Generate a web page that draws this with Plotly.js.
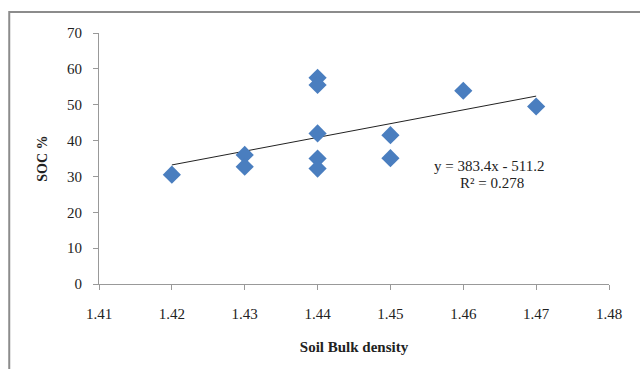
<!DOCTYPE html>
<html>
<head>
<meta charset="utf-8">
<script src="https://cdn.plot.ly/plotly-3.0.1.min.js"></script>
<style>html,body{margin:0;padding:0;background:#fff;}#chart{width:640px;height:369px;}</style>
</head>
<body>
<div id="chart"></div>
<script>
var bulkDensity = [1.42, 1.43, 1.43, 1.44, 1.44, 1.44, 1.44, 1.44, 1.45, 1.45, 1.46, 1.47];
var socPercent  = [30.5, 36.0, 32.7, 57.5, 55.5, 42.0, 35.0, 32.2, 41.5, 35.1, 53.9, 49.5];
var trendX = [1.42, 1.47];
var trendY = [33.2, 52.4];
var xTicks = [1.41, 1.42, 1.43, 1.44, 1.45, 1.46, 1.47, 1.48];
var xTickLabels = ['1.41', '1.42', '1.43', '1.44', '1.45', '1.46', '1.47', '1.48'];
var yTicks = [0, 10, 20, 30, 40, 50, 60, 70];
var equationText = 'y = 383.4x - 511.2';
var r2Text = 'R² = 0.278';

var serif = 'Liberation Serif, Times New Roman, serif';

var traces = [
  {
    x: trendX, y: trendY, type: 'scatter', mode: 'lines',
    line: {color: '#222', width: 1}, hoverinfo: 'skip', showlegend: false
  },
  {
    x: bulkDensity, y: socPercent, type: 'scatter', mode: 'markers',
    marker: {symbol: 'diamond', size: 14, color: '#4a7ebf'}, showlegend: false
  }
];

var layout = {
  width: 640, height: 369,
  margin: {l: 99, r: 31, t: 33, b: 85},
  paper_bgcolor: '#fff', plot_bgcolor: '#fff',
  showlegend: false,
  font: {family: serif, size: 15, color: '#222'},
  xaxis: {
    range: [1.41, 1.48], tickvals: xTicks, ticktext: xTickLabels,
    showgrid: false, zeroline: false, showline: true, linecolor: '#999', linewidth: 1,
    ticks: 'outside', ticklen: 5, tickcolor: '#999',
    ticklabelstandoff: 11,
    tickfont: {family: serif, size: 15, color: '#222'},
    title: {text: '<b>Soil Bulk density</b>', font: {family: serif, size: 15, color: '#222'}, standoff: 20}
  },
  yaxis: {
    range: [0, 70], tickvals: yTicks,
    showgrid: false, zeroline: false, showline: true, linecolor: '#999', linewidth: 1,
    ticks: 'outside', ticklen: 5, tickcolor: '#999',
    ticklabelstandoff: 8,
    tickfont: {family: serif, size: 15, color: '#222'},
    title: {text: '<b>SOC %</b>', font: {family: serif, size: 14, color: '#222'}, standoff: 16}
  },
  annotations: [
    {xref: 'x', yref: 'y', x: 1.4635, y: 33.0, text: equationText, showarrow: false,
     font: {family: serif, size: 15, color: '#222'}, xanchor: 'center', yanchor: 'middle'},
    {xref: 'x', yref: 'y', x: 1.4640, y: 28.3, text: r2Text, showarrow: false,
     font: {family: serif, size: 15, color: '#222'}, xanchor: 'center', yanchor: 'middle'}
  ],
  shapes: [
    {type: 'rect', xref: 'paper', yref: 'paper', x0: -0.176, x1: 1.08, y0: -0.37, y1: 1.084,
     line: {color: '#8c8c8c', width: 2}, fillcolor: 'rgba(0,0,0,0)', layer: 'below'}
  ]
};

Plotly.newPlot('chart', traces, layout, {displayModeBar: false, staticPlot: true});
</script>
</body>
</html>
